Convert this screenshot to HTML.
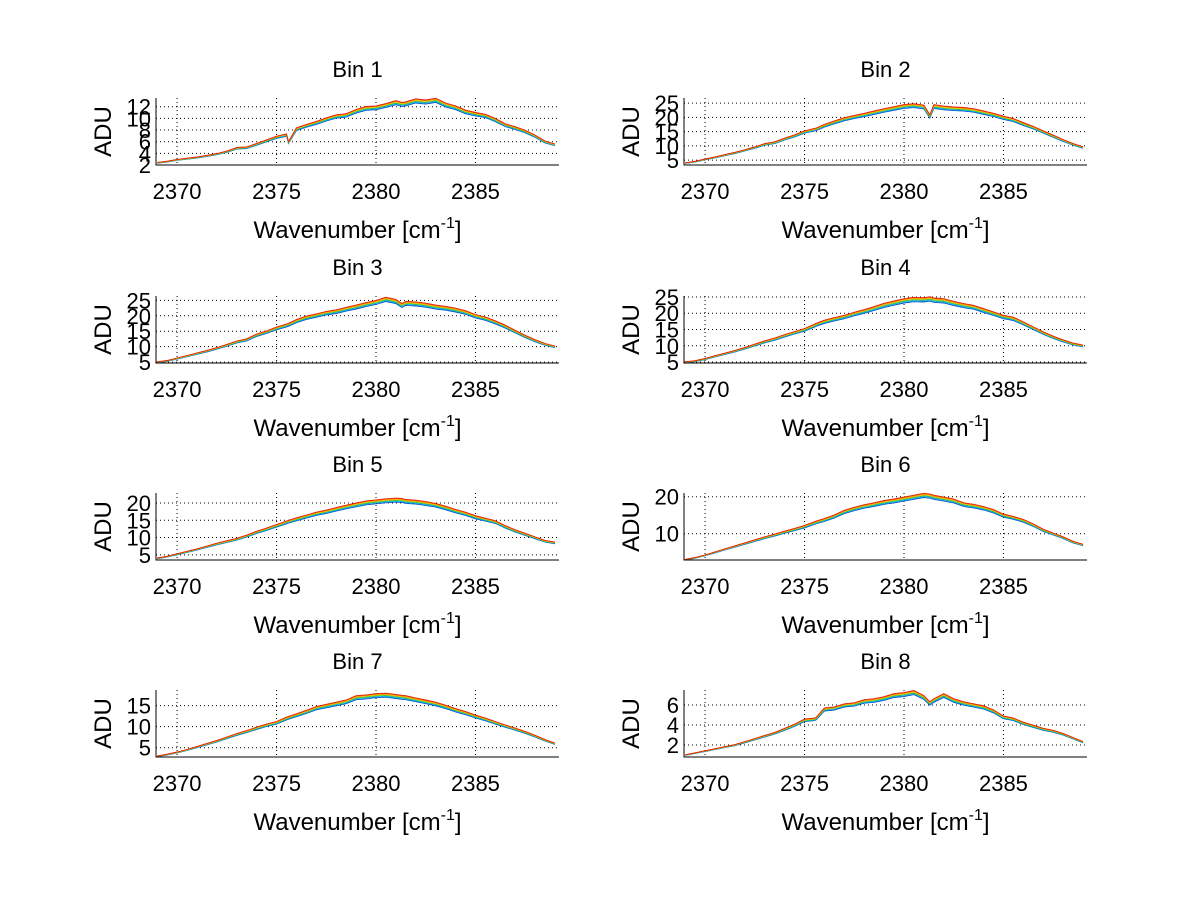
<!DOCTYPE html>
<html><head><meta charset="utf-8"><style>
html,body{margin:0;padding:0;background:#fff;}
svg{display:block;font-family:"Liberation Sans",sans-serif;}
</style></head><body>
<svg id="fig" width="1200" height="901" viewBox="0 0 1200 901" xmlns="http://www.w3.org/2000/svg"></svg>
<script>
// wavenumber grid
const xs = [2369,2369.5,2370,2370.5,2371,2371.5,2372,2372.5,2373,2373.5,2374,2374.5,2375,2375.5,2375.6,2376,2376.5,2377,2377.5,2378,2378.5,2379,2379.5,2380,2380.5,2381,2381.3,2381.5,2382,2382.5,2383,2383.5,2384,2384.5,2385,2385.5,2386,2386.5,2387,2387.5,2388,2388.5,2389];
const bin1 = [2.4,2.6,2.9,3.1,3.3,3.6,3.9,4.3,4.9,5.0,5.6,6.2,6.8,7.2,5.9,8.2,8.8,9.3,9.9,10.4,10.6,11.3,11.8,11.9,12.3,12.8,12.5,12.6,13.1,12.9,13.2,12.4,11.9,11.2,10.8,10.5,9.8,8.9,8.4,7.8,7.0,6.0,5.5];
const bin2 = [4.0,4.5,5.3,6.0,6.8,7.6,8.5,9.5,10.6,11.2,12.5,13.6,15.0,15.8,16.0,17.2,18.4,19.5,20.3,21.0,21.8,22.6,23.3,24.0,24.3,23.8,20.5,24.0,23.5,23.2,23.0,22.6,21.8,21.0,20.0,19.2,17.8,16.5,15.0,13.5,12.0,10.6,9.5];
const bin3 = [5.0,5.4,6.2,7.0,7.8,8.6,9.5,10.5,11.6,12.3,13.8,14.8,16.0,17.0,17.2,18.4,19.5,20.2,21.0,21.5,22.3,23.0,23.8,24.5,25.5,24.8,23.5,24.2,24.0,23.6,23.0,22.6,22.0,21.2,20.0,19.2,18.0,16.6,15.0,13.4,12.0,10.8,10.0];
const bin4 = [5.0,5.3,6.0,6.8,7.6,8.4,9.3,10.3,11.3,12.1,13.2,14.1,15.0,16.3,16.6,17.5,18.3,19.0,19.9,20.7,21.6,22.6,23.3,24.0,24.4,24.3,24.6,24.2,24.0,23.2,22.5,22.0,21.0,20.0,19.0,18.4,17.0,15.5,14.0,12.7,11.6,10.6,10.0];
const bin5 = [4.0,4.5,5.2,5.9,6.6,7.4,8.2,8.9,9.6,10.5,11.6,12.5,13.5,14.5,14.7,15.4,16.2,17.0,17.6,18.3,19.0,19.6,20.2,20.5,20.8,21.0,20.9,20.6,20.4,20.0,19.5,18.7,17.8,17.0,16.0,15.3,14.6,13.2,12.0,11.0,10.0,9.0,8.5];
const bin6 = [3.0,3.5,4.2,5.0,5.8,6.6,7.4,8.2,9.0,9.7,10.5,11.2,12.0,13.0,13.2,13.8,14.8,16.0,16.8,17.5,18.0,18.6,19.0,19.5,20.0,20.5,20.3,20.0,19.5,19.0,18.0,17.6,17.0,16.2,15.0,14.4,13.6,12.4,11.0,10.0,9.0,7.8,7.0];
const bin7 = [3.0,3.4,3.9,4.5,5.2,5.9,6.6,7.4,8.2,8.9,9.7,10.4,11.0,12.0,12.2,12.8,13.6,14.5,15.0,15.5,16.0,17.0,17.2,17.5,17.6,17.3,17.1,17.0,16.5,16.0,15.5,14.8,14.0,13.3,12.5,11.8,11.0,10.2,9.5,8.7,7.8,6.8,6.0];
const bin8 = [1.0,1.2,1.4,1.6,1.8,2.0,2.3,2.6,2.9,3.2,3.6,4.0,4.5,4.6,4.7,5.6,5.7,6.0,6.1,6.4,6.5,6.7,7.0,7.1,7.3,6.8,6.2,6.5,7.0,6.5,6.2,6.0,5.8,5.4,4.8,4.6,4.2,3.9,3.6,3.4,3.1,2.7,2.3];
const bins = [bin1,bin2,bin3,bin4,bin5,bin6,bin7,bin8];
const titles = ["Bin 1","Bin 2","Bin 3","Bin 4","Bin 5","Bin 6","Bin 7","Bin 8"];
const yTicks = [[2,4,6,8,10,12],[5,10,15,20,25],[5,10,15,20,25],[5,10,15,20,25],[5,10,15,20],[10,20],[5,10,15],[2,4,6]];
const yLims = [[2,13.5],[3.3,26.8],[4.7,26.4],[4.7,25.3],[3.5,22.9],[2.9,21],[2.8,18.7],[0.8,7.5]];
const xTicks = [2370,2375,2380,2385];
const xLim = [2368.94,2389.2];
const seriesOffsets = [-0.035,-0.022,-0.01,0,0.01,0.02];
const seriesColors = ["#0050d0","#00b0e0","#40c040","#e0d000","#ff8000","#e02000"];

const NS="http://www.w3.org/2000/svg";
const svg=document.getElementById('fig');
function mk(tag,attrs,parent){const e=document.createElementNS(NS,tag);for(const k in attrs)e.setAttribute(k,attrs[k]);(parent||svg).appendChild(e);return e;}
const colsX=[156,684], rowsY=[98,296,493,690], W=403, H=67;

bins.forEach((vals,i)=>{
  const L=colsX[i%2], T=rowsY[Math.floor(i/2)];
  const g=mk('g',{});
  
  
  const [y0,y1]=yLims[i];
  const sx=v=>L+(v-xLim[0])/(xLim[1]-xLim[0])*W;
  const sy=v=>T+H-(v-y0)/(y1-y0)*H;
  xTicks.forEach(t=>{
    const l=mk('line',{x1:sx(t),x2:sx(t),y1:T,y2:T+H,stroke:'#000','stroke-width':1,'stroke-dasharray':'1,3'},g);
    
    
    const tk=mk('text',{x:sx(t),y:T+H+34,'font-size':22,'text-anchor':'middle',fill:'#000'},g);
    tk.textContent=t;
    
    
  });
  yTicks[i].forEach(t=>{
    const l=mk('line',{x1:L,x2:L+W,y1:sy(t),y2:sy(t),stroke:'#000','stroke-width':1,'stroke-dasharray':'1,3'},g);
    
    
    const tk=mk('text',{x:L-5,y:sy(t)+8,'font-size':22,'text-anchor':'end',fill:'#000'},g);
    tk.textContent=t;
    
    
  });
  seriesOffsets.forEach((o,s)=>{
    const d=vals.map((v,k)=>(k?'L':'M')+sx(xs[k]).toFixed(1)+','+Math.max(T,Math.min(T+H,sy(v*(1+o)))).toFixed(1)).join('');
    const p=mk('path',{d:d,fill:'none',stroke:seriesColors[s],'stroke-width':0.9},g);
    
    
  });
  const ax=mk('path',{d:`M${L},${T}V${T+H}H${L+W}`,fill:'none',stroke:'#000','stroke-width':1},g);
  
  
  const ti=mk('text',{x:L+W/2,y:T-21,'font-size':22,'text-anchor':'middle',fill:'#000'},g);
  ti.textContent=titles[i];
  
  
  const xl=mk('text',{x:L+W/2,y:T+H+73,'font-size':24,'text-anchor':'middle',fill:'#000'},g);
  xl.innerHTML='Wavenumber [cm<tspan dy="-10" font-size="16">-1</tspan><tspan dy="10">]</tspan>';
  
  
  const yl=mk('text',{x:0,y:0,'font-size':24,'text-anchor':'middle',fill:'#000',transform:`translate(${L-45},${T+H/2}) rotate(-90)`},g);
  yl.textContent='ADU';
  
  
});
</script>
</body></html>
